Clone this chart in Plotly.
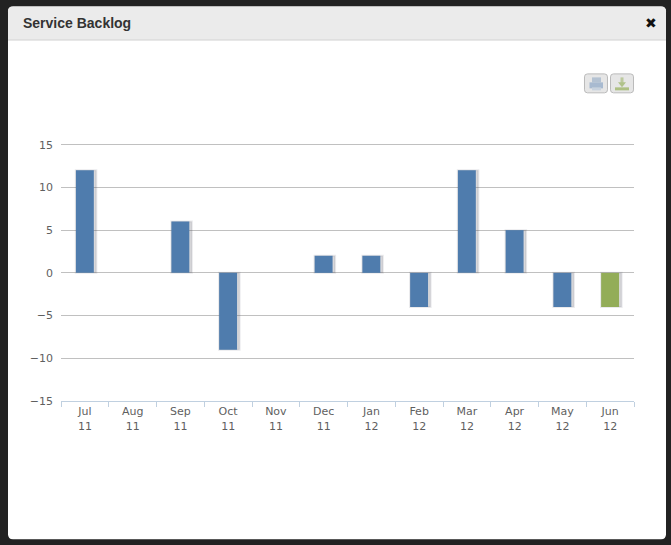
import plotly.graph_objects as go

months = ["Jul", "Aug", "Sep", "Oct", "Nov", "Dec", "Jan", "Feb", "Mar", "Apr", "May", "Jun"]
years = ["11", "11", "11", "11", "11", "11", "12", "12", "12", "12", "12", "12"]
values = [12, 0, 6, -9, 0, 2, 2, -4, 12, 5, -4, -4]
bar_colors = ["#4F7CAD"] * 11 + ["#93AD58"]
categories = [f"{m}<br>{y}" for m, y in zip(months, years)]
shadow_values = [v if v != 0 else None for v in values]
title_text = "Service Backlog"

W, H = 671, 545
L, R, T, B = 61, 634, 142.8, 401.5


def px(x):
    return (x - L) / (R - L)


def py(y):
    return (B - y) / (B - T)


def P(*pts):
    return " ".join(("%s%.5f,%.5f" % (c, px(x), py(y))) for c, x, y in pts) + " Z"


def rrect(x0, y0, x1, y1, r):
    return (f"M{px(x0+r):.5f},{py(y0):.5f} L{px(x1-r):.5f},{py(y0):.5f} "
            f"Q{px(x1):.5f},{py(y0):.5f} {px(x1):.5f},{py(y0+r):.5f} "
            f"L{px(x1):.5f},{py(y1-r):.5f} Q{px(x1):.5f},{py(y1):.5f} {px(x1-r):.5f},{py(y1):.5f} "
            f"L{px(x0+r):.5f},{py(y1):.5f} Q{px(x0):.5f},{py(y1):.5f} {px(x0):.5f},{py(y1-r):.5f} "
            f"L{px(x0):.5f},{py(y0+r):.5f} Q{px(x0):.5f},{py(y0):.5f} {px(x0+r):.5f},{py(y0):.5f} Z")


def toprect(x0, y0, x1, y1, r):
    return (f"M{px(x0+r):.5f},{py(y0):.5f} L{px(x1-r):.5f},{py(y0):.5f} "
            f"Q{px(x1):.5f},{py(y0):.5f} {px(x1):.5f},{py(y0+r):.5f} "
            f"L{px(x1):.5f},{py(y1):.5f} L{px(x0):.5f},{py(y1):.5f} "
            f"L{px(x0):.5f},{py(y0+r):.5f} Q{px(x0):.5f},{py(y0):.5f} {px(x0+r):.5f},{py(y0):.5f} Z")


def s_path(path, fill, line=None, lw=0, layer="below"):
    return dict(type="path", xref="paper", yref="paper", path=path, fillcolor=fill,
                line=dict(color=line or fill, width=lw), layer=layer)


def s_rect(x0, y0, x1, y1, fill, layer="above"):
    return dict(type="rect", xref="paper", yref="paper", x0=px(x0), x1=px(x1), y0=py(y0), y1=py(y1),
                fillcolor=fill, line=dict(width=0), layer=layer)


shapes = [
    s_path(rrect(8, 6, 666, 540, 5), "#FFFFFF"),
    s_path(toprect(8, 6, 666, 39, 5), "#EBEBEB"),
    dict(type="line", xref="paper", yref="paper", x0=px(8), x1=px(666), y0=py(39.5), y1=py(39.5),
         line=dict(color="#CCCCCC", width=1), layer="below"),
    # export buttons
    s_path(rrect(584.5, 73.5, 607.5, 92.5, 3), "#E6E6E6", "#BBBBBB", 1, "above"),
    s_path(rrect(610.5, 73.5, 633.5, 92.5, 3), "#E6E6E6", "#BBBBBB", 1, "above"),
    # printer icon
    s_rect(592, 77, 601, 82, "#B4C2D2"),
    s_rect(589.5, 82, 603, 88, "#A8BAD0"),
    s_rect(592, 87, 601, 90, "#C8D2DE"),
    # download icon
    s_rect(615, 87, 629, 90, "#AEC084"),
    s_rect(620.5, 77, 623.5, 83, "#BCC99E"),
    s_path(P(("M", 618, 82), ("L", 626, 82), ("L", 622, 87)), "#B0C28A", layer="above"),
]

fig = go.Figure()
# soft drop shadow behind each bar
fig.add_bar(x=categories, y=shadow_values, width=0.43, offset=-0.19,
            marker=dict(color="rgba(80,80,95,0.22)", line=dict(color="rgba(80,80,95,0.12)", width=2)),
            hoverinfo="skip", showlegend=False)
fig.add_bar(x=categories, y=values, width=0.375, offset=-0.1875,
            marker=dict(color=bar_colors, line=dict(width=0)), showlegend=False)

fig.update_layout(
    width=W, height=H, autosize=False, barmode="overlay",
    margin=dict(l=L, r=W - R, t=T, b=H - B, pad=0),
    paper_bgcolor="#222222", plot_bgcolor="rgba(0,0,0,0)",
    font=dict(family="DejaVu Sans, Liberation Sans", size=11, color="#5F5F5F"),
    shapes=shapes,
    annotations=[
        dict(text=f"<b>{title_text}</b>", xref="paper", yref="paper", x=px(20.5), y=py(22.5), xanchor="left",
             yanchor="middle", showarrow=False, font=dict(family="Liberation Sans", size=14, color="#333333")),
        dict(text="✖", xref="paper", yref="paper", x=px(651), y=py(22.5), xanchor="center", yanchor="middle",
             showarrow=False, font=dict(family="DejaVu Sans", size=14, color="#111111")),
    ],
    xaxis=dict(type="category", range=[-0.5, 11.5], tickson="boundaries", ticks="outside", ticklen=5,
               tickwidth=1, tickcolor="#C0D0E0", showline=True, linecolor="#C0D0E0", linewidth=1,
               showgrid=False, zeroline=False, tickangle=0, fixedrange=True,
               tickfont=dict(size=11, color="#5F5F5F")),
    yaxis=dict(range=[-15, 15.2], tickvals=[-15, -10, -5, 0, 5, 10, 15], showgrid=True, gridcolor="#C0C0C0",
               gridwidth=1, zeroline=True, zerolinecolor="#C0C0C0", zerolinewidth=1, showline=False,
               ticks="", ticklabelstandoff=7, fixedrange=True, tickfont=dict(size=11, color="#5F5F5F")),
)

fig.write_html("out.html", config=dict(displayModeBar=False),
               post_script="document.body.style.margin='0';document.body.style.background='#222';")
